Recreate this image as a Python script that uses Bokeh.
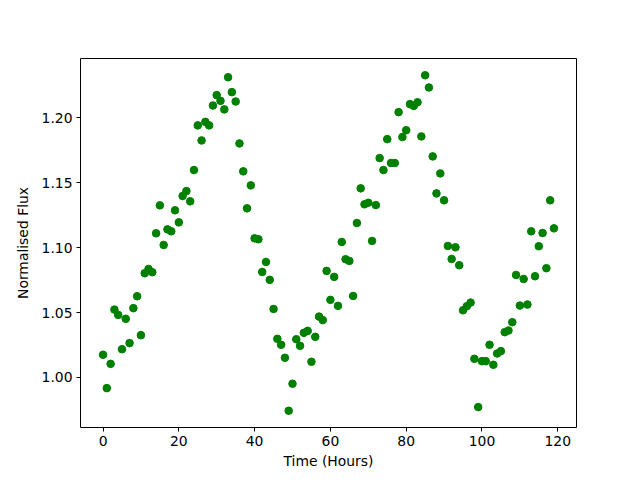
from bokeh.plotting import figure
from bokeh.models import Range1d, FixedTicker, PrintfTickFormatter
from bokeh.embed import file_html
from bokeh.resources import INLINE

time_hours = list(range(120))
flux = [
    1.0175, 0.9918, 1.0105, 1.0523, 1.0482, 1.0218, 1.0452, 1.0265, 1.0534, 1.0626,
    1.0326, 1.0803, 1.0836, 1.0811, 1.1111, 1.1326, 1.1021, 1.1141, 1.1126, 1.1288,
    1.1195, 1.1398, 1.1436, 1.1357, 1.1598, 1.1942, 1.1826, 1.1969, 1.1942, 1.2095,
    1.2175, 1.2131, 1.2065, 1.2313, 1.2198, 1.2126, 1.1803, 1.1588, 1.1303, 1.1480,
    1.1072, 1.1065, 1.0813, 1.0890, 1.0752, 1.0528, 1.0298, 1.0252, 1.0152, 0.9744,
    0.9952, 1.0295, 1.0244, 1.0344, 1.0359, 1.0121, 1.0313, 1.0469, 1.0442, 1.0821,
    1.0598, 1.0775, 1.0552, 1.1044, 1.0911, 1.0898, 1.0628, 1.1190, 1.1457, 1.1334,
    1.1346, 1.1052, 1.1328, 1.1690, 1.1598, 1.1836, 1.1652, 1.1652, 1.2044, 1.1852,
    1.1905, 1.2106, 1.2092, 1.2120, 1.1857, 1.2328, 1.2234, 1.1703, 1.1418, 1.1572,
    1.1365, 1.1013, 1.0913, 1.1003, 1.0865, 1.0518, 1.0549, 1.0577, 1.0144, 0.9772,
    1.0126, 1.0126, 1.0252, 1.0098, 1.0185, 1.0203, 1.0349, 1.0362, 1.0426, 1.0790,
    1.0554, 1.0759, 1.0562, 1.1126, 1.0780, 1.1011, 1.1113, 1.0842, 1.1365, 1.1149,
]
x_ticks = [0, 20, 40, 60, 80, 100, 120]
y_ticks = [1.00, 1.05, 1.10, 1.15, 1.20]

xmin, xmax = min(time_hours), max(time_hours)
ymin, ymax = min(flux), max(flux)
xm = 0.05 * (xmax - xmin)
ym = 0.05 * (ymax - ymin)

p = figure(
    frame_width=496, frame_height=369,
    min_border_left=80, min_border_right=56, min_border_top=58, min_border_bottom=45,
    x_range=Range1d(xmin - xm, xmax + xm), y_range=Range1d(ymin - ym, ymax + ym),
    output_backend="svg", toolbar_location=None,
)
p.scatter(time_hours, flux, size=7.6, marker="circle",
          fill_color="#008000", line_color="#008000", line_width=1)

p.grid.visible = False
p.outline_line_color = "black"
p.outline_line_width = 1
p.outline_line_alpha = 1
p.background_fill_color = "white"
p.border_fill_color = "white"

for ax in (p.xaxis[0], p.yaxis[0]):
    ax.axis_line_color = None
    ax.major_tick_out = 4
    ax.major_tick_in = 0
    ax.minor_tick_line_color = None
    ax.major_tick_line_color = "black"
    ax.major_label_text_font = "DejaVu Sans"
    ax.major_label_text_font_size = "13.9px"
    ax.major_label_text_color = "black"
    ax.axis_label_text_font = "DejaVu Sans"
    ax.axis_label_text_font_size = "13.9px"
    ax.axis_label_text_font_style = "normal"
    ax.axis_label_text_color = "black"
    ax.major_label_standoff = 4

p.xaxis[0].ticker = FixedTicker(ticks=x_ticks)
p.yaxis[0].ticker = FixedTicker(ticks=y_ticks)
p.yaxis[0].formatter = PrintfTickFormatter(format="%.2f")
p.xaxis[0].axis_label = "Time (Hours)"
p.yaxis[0].axis_label = "Normalised Flux"
p.xaxis[0].axis_label_standoff = 4
p.yaxis[0].axis_label_standoff = 8

open("out.html", "w").write(file_html(p, INLINE))
